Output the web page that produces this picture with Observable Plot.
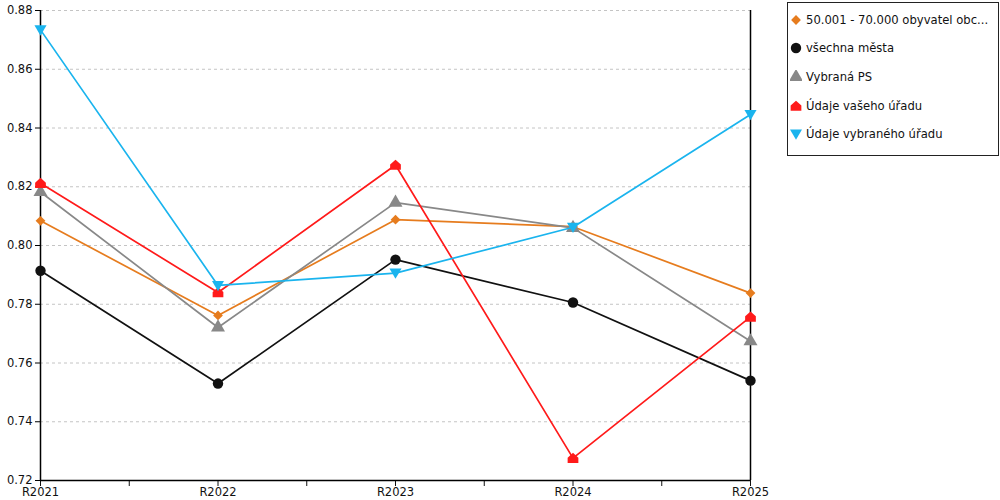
<!DOCTYPE html>
<html>
<head>
<meta charset="utf-8">
<script src="https://cdn.jsdelivr.net/npm/d3@7"></script>
<script src="https://cdn.jsdelivr.net/npm/@observablehq/plot@0.6"></script>
<style>
  body { margin: 0; background: #fff; font-family: "DejaVu Sans", Verdana, sans-serif; }
  #wrap { position: relative; width: 1000px; height: 500px; }
  #legend { position: absolute; left: 787px; top: 2px; width: 210px; height: 152px; border: 1px solid #222; box-sizing: content-box; }
  .item { position: absolute; left: 0; height: 20px; display: flex; align-items: center; font-size: 11.6px; color: #111; white-space: nowrap; }
  .item svg { margin-left: 2px; margin-right: 4px; }
</style>
</head>
<body>
<div id="wrap"><div id="legend"></div></div>
<script>
const years = ["R2021", "R2022", "R2023", "R2024", "R2025"];
const seriesNames = ["50.001 - 70.000 obyvatel obc...", "všechna města", "Vybraná PS", "Údaje vašeho úřadu", "Údaje vybraného úřadu"];
const obce = [0.8084, 0.7762, 0.8088, 0.8064, 0.7838];
const mesta = [0.7914, 0.7530, 0.7952, 0.7806, 0.7540];
const vybranaPS = [0.8182, 0.7721, 0.8146, 0.8060, 0.7674];
const vasUrad = [0.8212, 0.7840, 0.8274, 0.7276, 0.7757];
const vybranyUrad = [0.8734, 0.7864, 0.7906, 0.8062, 0.8446];
const yTicks = [0.72, 0.74, 0.76, 0.78, 0.80, 0.82, 0.84, 0.86, 0.88];

const colors = ["#e67c1e", "#111111", "#888888", "#ff1a1a", "#1ab4ee"];

const diamond = {
  draw(ctx, size) {
    const w = Math.sqrt(size) * 0.6;
    ctx.moveTo(0, -w);
    ctx.lineTo(w, 0);
    ctx.lineTo(0, w);
    ctx.lineTo(-w, 0);
    ctx.closePath();
  }
};
const house = {
  draw(ctx, size) {
    const w = Math.sqrt(size) * 0.55;
    ctx.moveTo(-w, w * 0.9);
    ctx.lineTo(w, w * 0.9);
    ctx.lineTo(w, -w * 0.1);
    ctx.lineTo(0, -w * 1.0);
    ctx.lineTo(-w, -w * 0.1);
    ctx.closePath();
  }
};
const triDown = {
  draw(ctx, size) {
    const w = Math.sqrt(size) * 0.62;
    ctx.moveTo(-w, -w * 0.75);
    ctx.lineTo(w, -w * 0.75);
    ctx.lineTo(0, w * 0.95);
    ctx.closePath();
  }
};
const symbols = [diamond, d3.symbolCircle, d3.symbolTriangle, house, triDown];
const radii = [4.6, 5.2, 5.2, 5.5, 5.5];
const allValues = [obce, mesta, vybranaPS, vasUrad, vybranyUrad];

const marks = [
  Plot.gridY(yTicks, { stroke: "#c4c4c4", strokeOpacity: 1, strokeDasharray: "3,3" }),
  Plot.axisY(yTicks, { tickFormat: d3.format(".2f"), tickSize: 5, fontSize: 11.5, stroke: "#000", label: null, tickPadding: 3 }),
  Plot.axisX(d3.range(0, 4.01, 0.5), { tickFormat: d => Number.isInteger(d) ? years[d] : "", tickSize: 6, fontSize: 11.5, label: null, tickPadding: 1 }),
  Plot.ruleX([0], { stroke: "#000", strokeWidth: 1.5 }),
  Plot.ruleX([4], { stroke: "#000", strokeWidth: 1.5 }),
  Plot.ruleY([0.72], { stroke: "#000", strokeWidth: 1.5 })
];
allValues.forEach((vals, k) => {
  const data = vals.map((v, i) => ({ i, v }));
  marks.push(Plot.line(data, { x: "i", y: "v", stroke: colors[k], strokeWidth: 1.7 }));
  marks.push(Plot.dot(data, { x: "i", y: "v", fill: colors[k], symbol: symbols[k], r: radii[k] }));
});

const chart = Plot.plot({
  width: 1000,
  height: 500,
  marginLeft: 40,
  marginRight: 250,
  marginTop: 10,
  marginBottom: 20,
  style: { fontFamily: "DejaVu Sans, Verdana, sans-serif", color: "#111", background: "#fff" },
  x: { type: "linear", domain: [0, 4] },
  y: { domain: [0.72, 0.88] },
  marks
});
document.getElementById("wrap").prepend(chart);

const legend = document.getElementById("legend");
const rowY = [20, 48, 77, 106, 134];
seriesNames.forEach((name, k) => {
  const item = document.createElement("div");
  item.className = "item";
  item.style.top = (rowY[k] - 10 - 3) + "px";
  const s = d3.create("svg").attr("width", 12).attr("height", 14);
  s.append("path")
    .attr("transform", "translate(6,7)")
    .attr("d", d3.symbol().type(symbols[k]).size(Math.PI * radii[k] * radii[k])())
    .attr("fill", colors[k]);
  item.appendChild(s.node());
  const t = document.createElement("span");
  t.textContent = name;
  item.appendChild(t);
  legend.appendChild(item);
});
</script>
</body>
</html>
